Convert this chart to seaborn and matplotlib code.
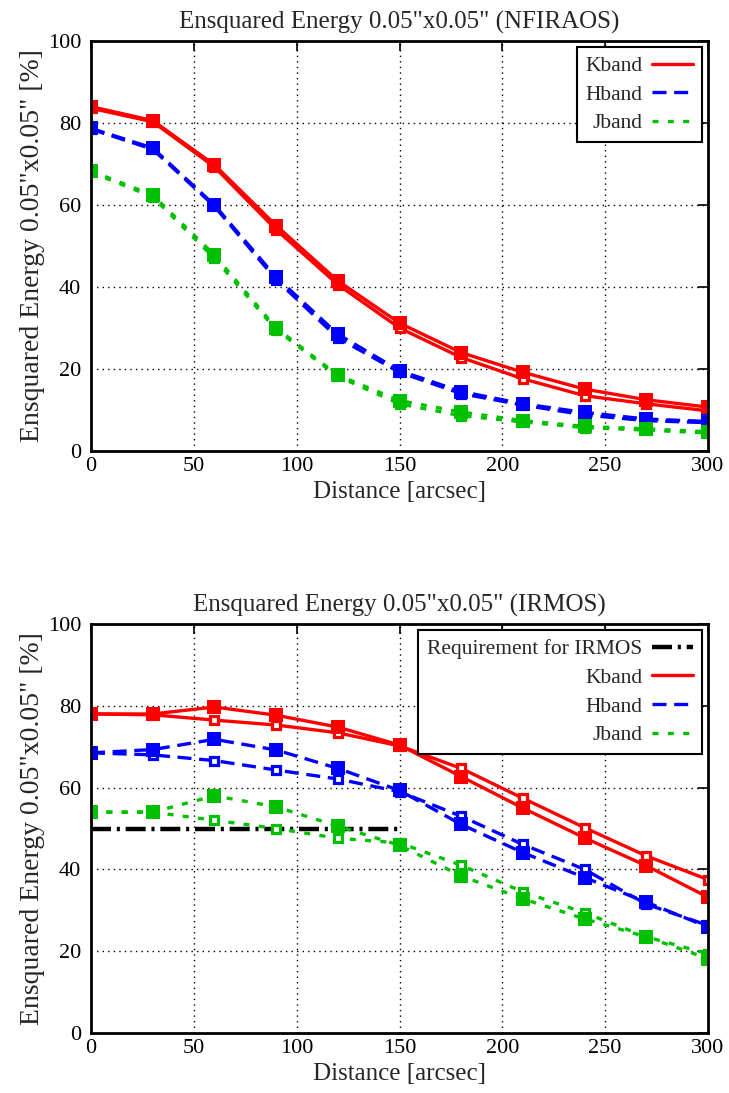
import numpy as np
import pandas as pd
import matplotlib
matplotlib.use("Agg")
import matplotlib.pyplot as plt
from matplotlib.lines import Line2D
import seaborn as sns

sns.set_theme(style="white")
plt.rcParams['font.family'] = ['Liberation Serif', 'DejaVu Serif']

distance = [0, 30, 60, 90, 120, 150, 180, 210, 240, 270, 300]

# NFIRAOS (top)
nf_k_filled = [84, 80.6, 69.8, 55, 41.5, 31.2, 24.0, 19.2, 15.1, 12.5, 10.7]
nf_k_open = [83.6, 80.3, 69.3, 54.0, 40.6, 30.0, 22.8, 17.6, 13.5, 11.5, 9.8]
nf_h_filled = [78.7, 73.9, 60.0, 42.4, 28.5, 19.6, 14.5, 11.5, 9.4, 7.8, 7.2]
nf_h_open = [78.5, 73.6, 59.7, 41.8, 27.6, 19.2, 14.0, 11.2, 8.8, 7.4, 6.9]
nf_j_filled = [68.3, 62.4, 47.8, 30.0, 18.5, 12.3, 9.5, 7.4, 6.0, 5.4, 4.7]
nf_j_open = [68.0, 62.0, 47.0, 29.6, 18.2, 11.5, 8.6, 7.1, 5.7, 5.1, 4.4]

# IRMOS (bottom)
ir_k_filled = [78.0, 78.0, 79.7, 77.7, 74.8, 70.4, 62.7, 55.0, 47.7, 40.9, 33.2]
ir_k_open = [78.0, 77.8, 76.5, 75.3, 73.4, 70.2, 64.7, 57.4, 50.2, 43.3, 37.5]
ir_h_filled = [68.5, 69.3, 71.8, 69.2, 64.7, 59.3, 51.0, 44.1, 38.0, 32.0, 25.9]
ir_h_open = [68.5, 68.0, 66.6, 64.3, 62.1, 59.0, 53.0, 46.1, 40.0, 31.5, 26.3]
ir_j_filled = [54.0, 54.0, 58.0, 55.3, 50.6, 45.9, 38.4, 32.8, 27.9, 23.5, 18.2]
ir_j_open = [54.0, 54.0, 52.0, 50.0, 47.6, 46.5, 41.0, 34.5, 29.4, 23.5, 19.4]

req_x = [0, 150]
req_y = [50, 50]

band_names = ["Kband", "Hband", "Jband"]
colors = {"Kband": "#FF0000", "Hband": "#0000FF", "Jband": "#00C000"}
styles = {"Kband": "-", "Hband": (0, (4.2, 2.3)), "Jband": (0, (1.8, 2.8))}
REQ_STYLE = (0, (4.5, 1.3, 0.7, 1.3))
LW = 2.4

fig = plt.figure(figsize=(7.29, 10.93), dpi=100)
ax1 = fig.add_axes([91/729, 1-451/1093, 617/729, 410/1093])
ax2 = fig.add_axes([91/729, 1-1033/1093, 617/729, 409/1093])


def draw_band(ax, name, filled, opn):
    c = colors[name]
    ls = styles[name]
    sns.lineplot(x=distance, y=opn, ax=ax, color=c, linestyle=ls, linewidth=LW,
                 marker='s', markersize=5.5, markeredgewidth=2.3, markeredgecolor=c,
                 markerfacecolor='white', legend=False, zorder=3)
    sns.lineplot(x=distance, y=filled, ax=ax, color=c, linestyle=ls, linewidth=LW,
                 marker='s', markersize=9.5, markeredgewidth=0, markerfacecolor=c,
                 legend=False, zorder=4)


def style_axes(ax, title):
    ax.set_xlim(0, 300)
    ax.set_ylim(0, 100)
    ax.set_xticks([0, 50, 100, 150, 200, 250, 300])
    ax.set_yticks([0, 20, 40, 60, 80, 100])
    ax.tick_params(direction='in', length=7, width=1.2, top=True, right=True,
                   labelsize=16, colors='black')
    ax.tick_params(axis='x', pad=4)
    ax.tick_params(axis='y', pad=7)
    for v in [50, 100, 150, 200, 250]:
        ax.axvline(v, color='black', linestyle=(0, (1, 3)), linewidth=1.0, zorder=1)
    for v in [20, 40, 60, 80]:
        ax.axhline(v, color='black', linestyle=(0, (1, 3)), linewidth=1.0, zorder=1)
    for s in ax.spines.values():
        s.set_color('black')
        s.set_linewidth(2.0)
        s.set_zorder(6)
    ax.set_title(title, fontsize=18, pad=9)
    ax.set_xlabel("Distance [arcsec]", fontsize=18, labelpad=4)
    ax.set_ylabel('Ensquared Energy 0.05"x0.05" [%]', fontsize=20, labelpad=2)
    ax.set_facecolor('white')


def make_legend(ax, handles, labels):
    leg = ax.legend(handles, labels, loc='upper right', markerfirst=False, fontsize=15.5,
                    frameon=True, fancybox=False, edgecolor='black', framealpha=1,
                    handlelength=1.9, handletextpad=0.45, labelspacing=0.4,
                    borderpad=0.4, borderaxespad=0.3)
    leg.get_frame().set_linewidth(1.5)
    leg.set_zorder(10)
    return leg


# Top
draw_band(ax1, "Kband", nf_k_filled, nf_k_open)
draw_band(ax1, "Hband", nf_h_filled, nf_h_open)
draw_band(ax1, "Jband", nf_j_filled, nf_j_open)
style_axes(ax1, 'Ensquared Energy 0.05"x0.05" (NFIRAOS)')
handles = [Line2D([], [], color=colors[n], linestyle=styles[n], linewidth=LW) for n in band_names]
make_legend(ax1, handles, band_names)

# Bottom
draw_band(ax2, "Kband", ir_k_filled, ir_k_open)
draw_band(ax2, "Hband", ir_h_filled, ir_h_open)
draw_band(ax2, "Jband", ir_j_filled, ir_j_open)
sns.lineplot(x=req_x, y=req_y, ax=ax2, color='black', linestyle=REQ_STYLE,
             linewidth=3.2, legend=False, zorder=2)
style_axes(ax2, 'Ensquared Energy 0.05"x0.05" (IRMOS)')
handles2 = [Line2D([], [], color='black', linestyle=REQ_STYLE, linewidth=3.2)] + \
           [Line2D([], [], color=colors[n], linestyle=styles[n], linewidth=LW) for n in band_names]
make_legend(ax2, handles2, ["Requirement for IRMOS"] + band_names)

fig.savefig("out.png", dpi=100, facecolor='white')
